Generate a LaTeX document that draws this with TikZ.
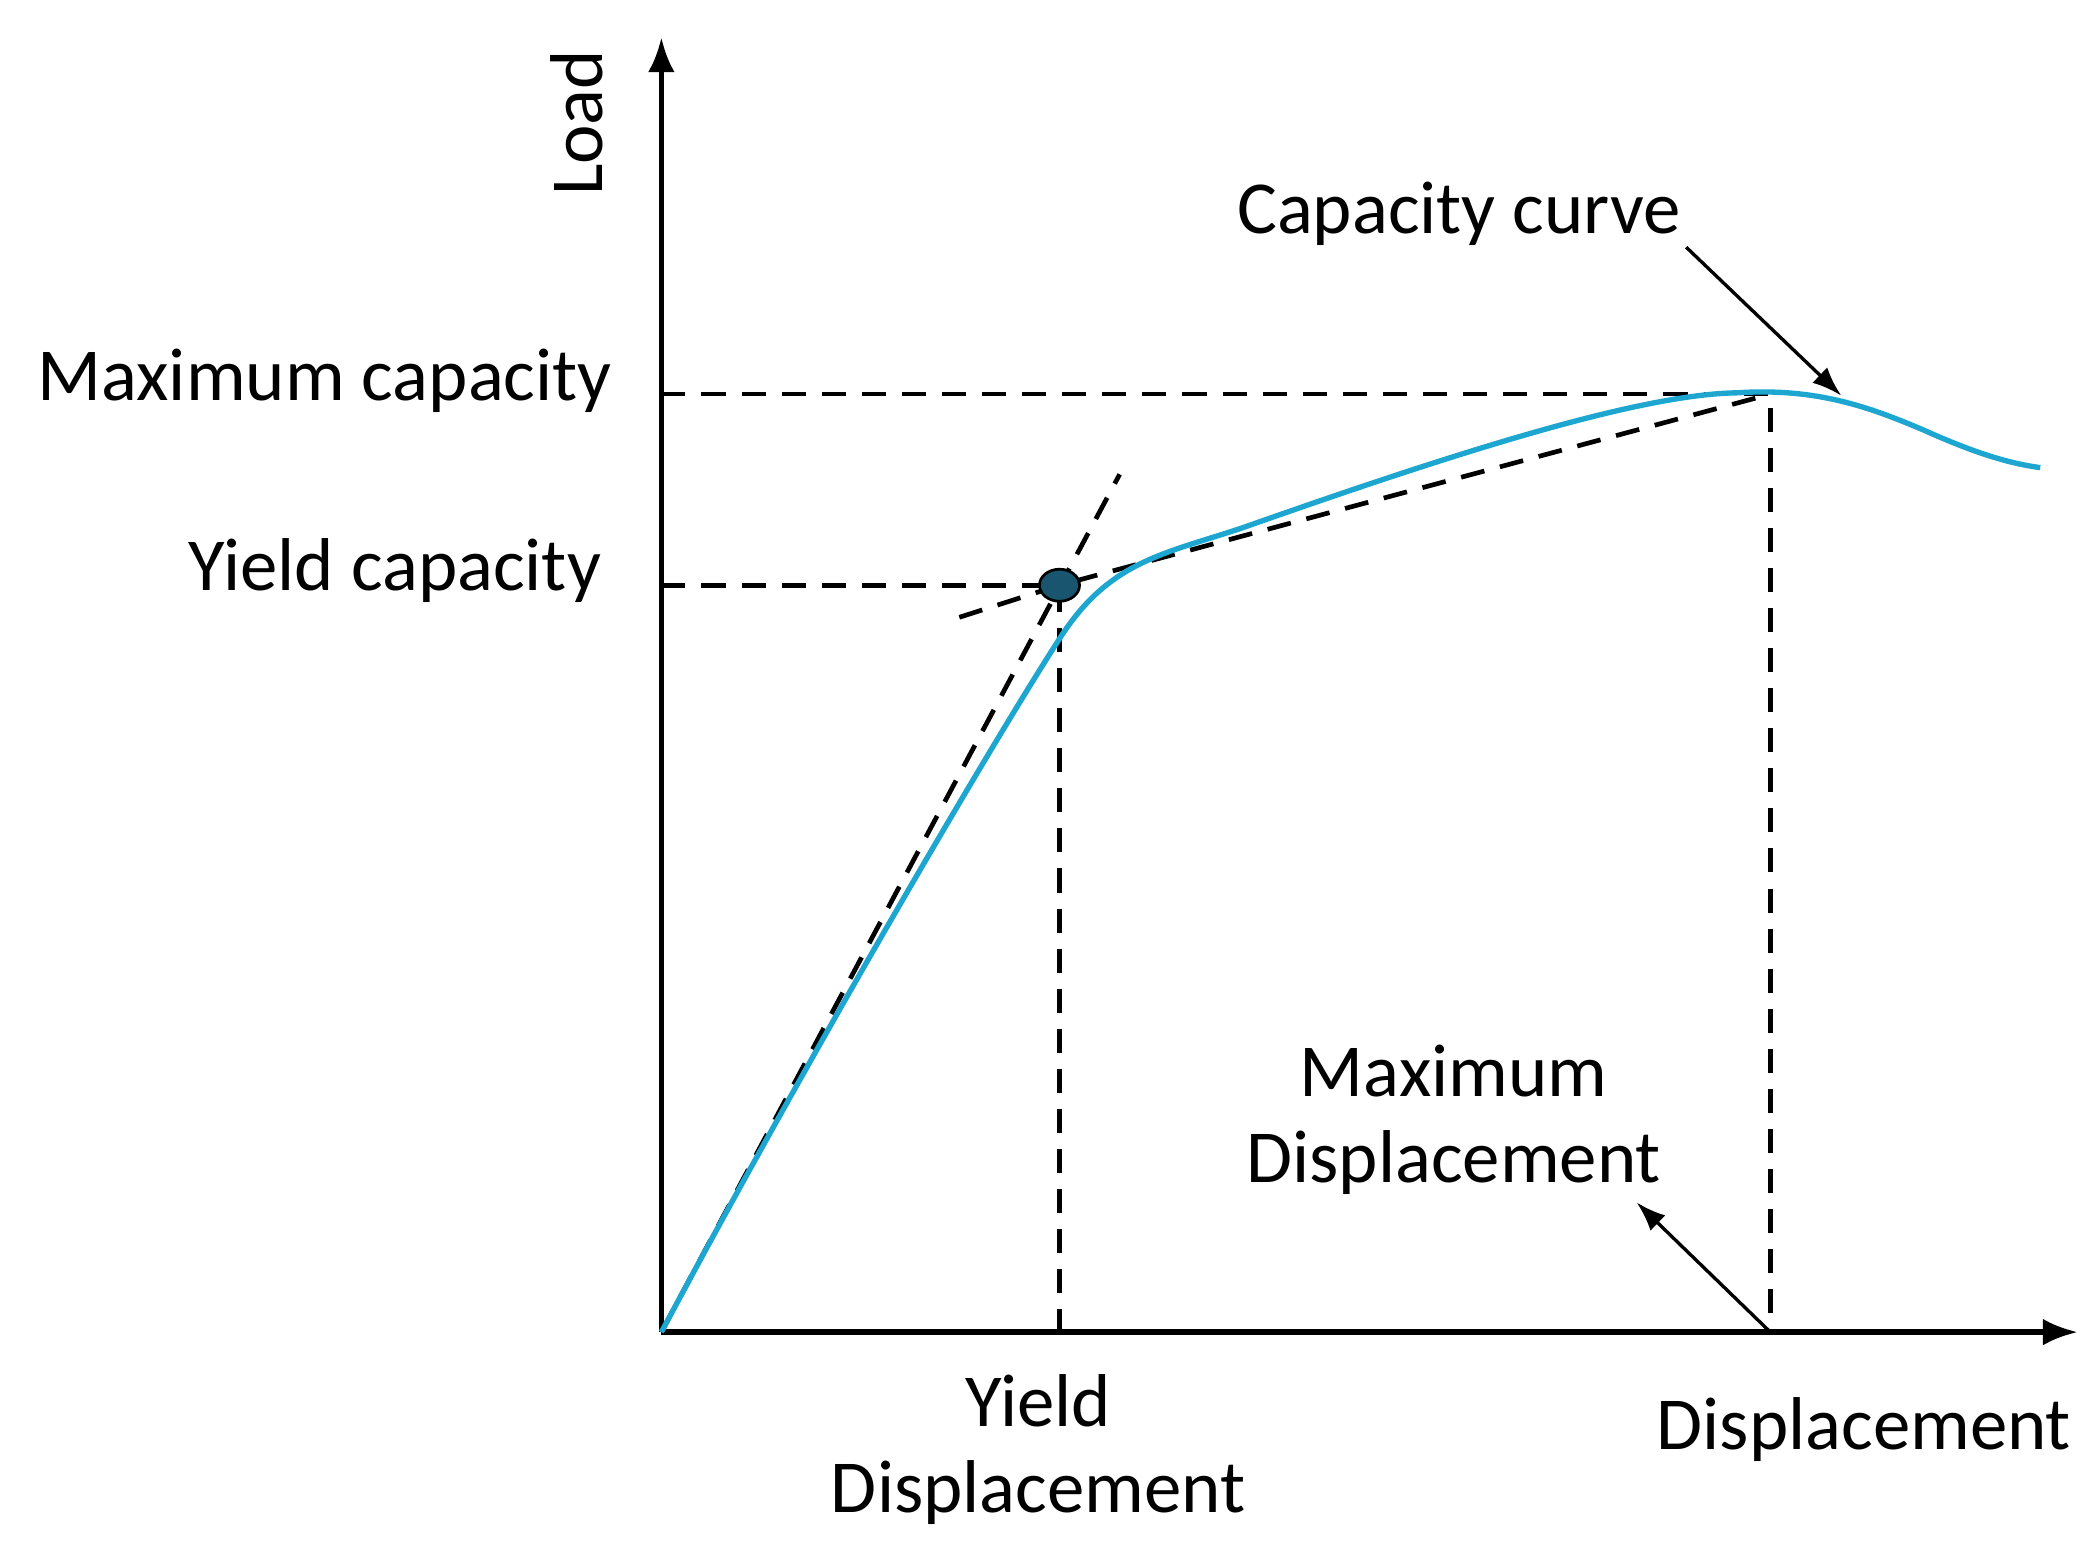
\documentclass[tikz,border=0pt]{standalone}
\usepackage{fontspec}
\setmainfont{Carlito}
\usetikzlibrary{arrows.meta,shapes.geometric}
\definecolor{curveblue}{RGB}{28,166,208}
\definecolor{dotfill}{RGB}{25,85,110}
\begin{document}
\begin{tikzpicture}[x=1pt,y=-1pt,
  lbl/.style={font=\fontsize{56}{64}\selectfont, inner sep=0pt, align=center},
  ax/.style={line width=4pt,-{Latex[length=26pt,width=20pt]}},
  dsh/.style={line width=3.5pt,dash pattern=on 18pt off 12pt},
  arr/.style={line width=2.5pt,-{Latex[length=22pt,width=16pt]}}]
\useasboundingbox (0,0) rectangle (1568,1160);
\coordinate (O) at (495,997);
\coordinate (ytop) at (495,28);
\coordinate (xend) at (1555,997);
\coordinate (maxpt) at (1325,295);
\coordinate (maxy) at (495,295);
\coordinate (maxx) at (1325,997);
\coordinate (yld) at (793,438);
\coordinate (yldy) at (495,438);
\coordinate (yldx) at (793,997);
\coordinate (k0) at (838,355);
\coordinate (s1) at (718,462);
\draw[ax] (O) -- (ytop);
\draw[ax] (O) -- (xend);
\draw[dsh] (maxy) -- (maxpt) -- (maxx);
\draw[dsh] (yldy) -- (yld) -- (yldx);
\draw[dsh] (O) -- (k0);
\draw[dsh] (s1) -- (yld) -- (maxpt);
\draw[curveblue,line width=4pt] (O) .. controls (600,800) and (740,560) .. (793,478)
  .. controls (830,420) and (870,415) .. (930,395)
  .. controls (1100,335) and (1230,295) .. (1300,294)
  .. controls (1360,290) and (1400,305) .. (1440,322)
  .. controls (1480,340) and (1505,347) .. (1527,350);
\node[draw=black,line width=2pt,fill=dotfill,ellipse,minimum width=30pt,minimum height=24pt,inner sep=0pt] (dot) at (yld) {};
\node[lbl,rotate=90] (load) at (432,92) {Load};
\node[lbl,anchor=east] (mc) at (458,285) {Maximum capacity};
\node[lbl,anchor=east] (yc) at (450,427) {Yield capacity};
\node[lbl] (cc) at (1092,160) {Capacity curve};
\node[lbl] (yd) at (777,1085) {Yield\\Displacement};
\node[lbl] (dp) at (1395,1070) {Displacement};
\node[lbl] (md) at (1088,838) {Maximum\\Displacement};
\coordinate (ccarr) at (1378,296);
\coordinate (mdarr) at (1225,900);
\draw[arr] (1262,185) -- (ccarr);
\draw[arr] (maxx) -- (mdarr);
\end{tikzpicture}
\end{document}
